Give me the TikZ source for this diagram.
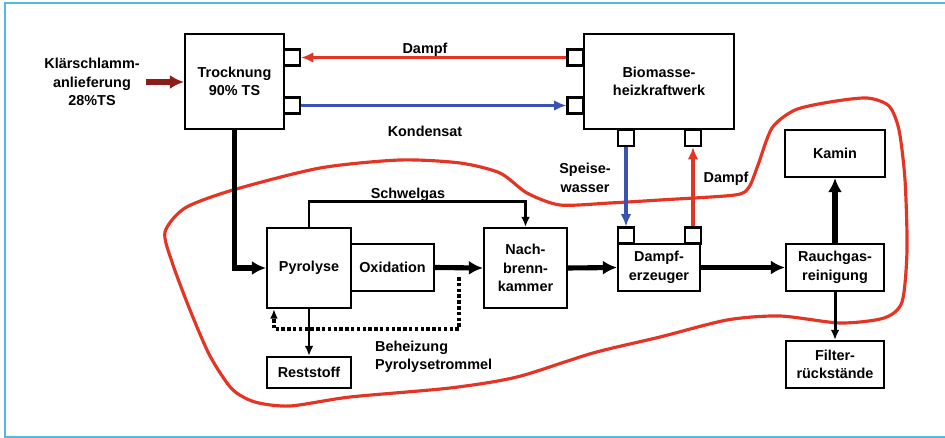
\documentclass[tikz,border=0pt]{standalone}
\usepackage{fontspec}
\setmainfont{Liberation Sans}
\usetikzlibrary{arrows.meta,positioning,calc}

\definecolor{rot}{RGB}{228,52,36}
\definecolor{blau}{RGB}{58,82,176}
\definecolor{braun}{RGB}{140,28,22}
\definecolor{rahmen}{RGB}{84,184,228}

\begin{document}
\begin{tikzpicture}[
        x=0.02cm, y=-0.02cm,
        every node/.style={font=\fontsize{8.2}{10.5}\selectfont\bfseries, align=center},
        box/.style={draw, line width=1.2pt, inner sep=1pt},
        port/.style={draw, line width=1.2pt, fill=white, minimum size=0.32cm, inner sep=0pt},
        flow/.style={line width=2.9pt, -{Latex[length=8pt,width=8pt]}, line join=miter},
        thin flow/.style={line width=1.7pt, -{Latex[length=5.8pt,width=5pt]}},
        steam/.style={rot, line width=2pt, -{Latex[length=7pt,width=6pt]}},
        water/.style={blau, line width=2pt, -{Latex[length=7pt,width=6pt]}},
        heat/.style={line width=2pt, dash pattern=on 2pt off 1.3pt, -{Latex[length=5.5pt,width=4.5pt]}},
    ]
    \useasboundingbox (0,0) rectangle (945,438);
    % frame
    \draw[rahmen, line width=1.3pt] (945,3) -- (5,3) -- (5,437) -- (945,437);
    % red outline
    \draw[rot, line width=1.8pt] plot[smooth cycle, tension=0.45] coordinates {
        (165,232) (185,208) (233,190) (320,168) (400,160) (460,163)
        (500,173) (527,193) (560,205) (610,203) (660,200) (735,195)
        (749,187) (758,165) (772,128) (795,110) (830,102) (867,98)
        (889,106) (899,130) (905,180) (907,250) (902,302) (884,318)
        (840,323) (780,316) (727,320) (660,337) (593,353) (517,377)
        (450,388) (350,397) (290,406) (255,402) (232,389) (210,356)
        (190,310) (172,262)};

    % boxes
    \node[box, minimum width=1.98cm, minimum height=1.9cm] (trock) at (234.5,81.5) {Trocknung\\90\% TS};
    \node[box, minimum width=3cm, minimum height=1.9cm] (bio) at (659,81.5) {Biomasse-\\heizkraftwerk};
    \node[box, minimum width=1.68cm, minimum height=1.6cm] (pyro) at (309,268) {Pyrolyse};
    \node[box, minimum width=1.66cm, minimum height=0.94cm] (oxi) at (392.5,267.5) {Oxidation};
    \node[box, minimum width=1.66cm, minimum height=1.6cm] (nach) at (525.5,268) {Nach-\\brenn-\\kammer};
    \node[box, minimum width=1.64cm, minimum height=0.94cm] (dampf) at (659,267.5) {Dampf-\\erzeuger};
    \node[box, minimum width=1.96cm, minimum height=0.94cm] (rauch) at (835,267.5) {Rauchgas-\\reinigung};
    \node[box, minimum width=2cm, minimum height=0.94cm] (kamin) at (835,153.5) {Kamin};
    \node[box, minimum width=1.96cm, minimum height=0.94cm] (filter) at (835,364.5) {Filter-\\rückstände};
    \node[box, minimum width=1.68cm, minimum height=0.62cm] (rest) at (309,372.5) {Reststoff};

    % ports
    \node[port] (tp1) at (292,57.5) {};
    \node[port] (tp2) at (292,105.5) {};
    \node[port] (bp1) at (575.5,57.5) {};
    \node[port] (bp2) at (575.5,105.5) {};
    \node[port] (bq1) at (626,138) {};
    \node[port] (bq2) at (693,138) {};
    \node[port] (dq1) at (626,235.5) {};
    \node[port] (dq2) at (693,235.5) {};

    % labels
    \node (klaer) at (92,82) {Klärschlamm-\\anlieferung\\28\%TS};
    \node (ldampf) at (425,50) {Dampf};
    \node (lkond) at (425,131) {Kondensat};
    \node (lspeise) at (585,178) {Speise-\\wasser};
    \node (ldampf2) at (726,179) {Dampf};
    \node (lschwel) at (408,195) {Schwelgas};
    \node[anchor=west, align=left] (lheiz) at (369,357) {Beheizung\\Pyrolysetrommel};

    % steam and water
    \draw[braun, flow] (klaer.east) -- (klaer.east -| trock.west);
    \draw[steam] (bp1.west) -- (tp1.east);
    \draw[water] (tp2.east) -- (bp2.west);
    \draw[water] (bq1.south) -- (dq1.north);
    \draw[steam] (dq2.north) -- (bq2.south);

    % main flow
    \draw[flow] (trock.south) |- (pyro.west);
    \draw[flow] (oxi.east) -- (nach.west);
    \draw[flow] (nach.east) -- (dampf.west);
    \draw[flow] (dampf.east) -- (rauch.west);
    \draw[flow] (rauch.north) -- (kamin.south);
    \draw[thin flow] (rauch.south) -- (filter.north);
    \draw[thin flow] (pyro.south) -- (rest.north);
    \draw[thin flow] (pyro.north) -- ++(0,-25) -| (nach.north);
    \coordinate (heiz) at (459,277);
    \draw[heat] (heiz) -- ++(0,52) -| ([xshift=0.16cm]pyro.south west);
\end{tikzpicture}
\end{document}
